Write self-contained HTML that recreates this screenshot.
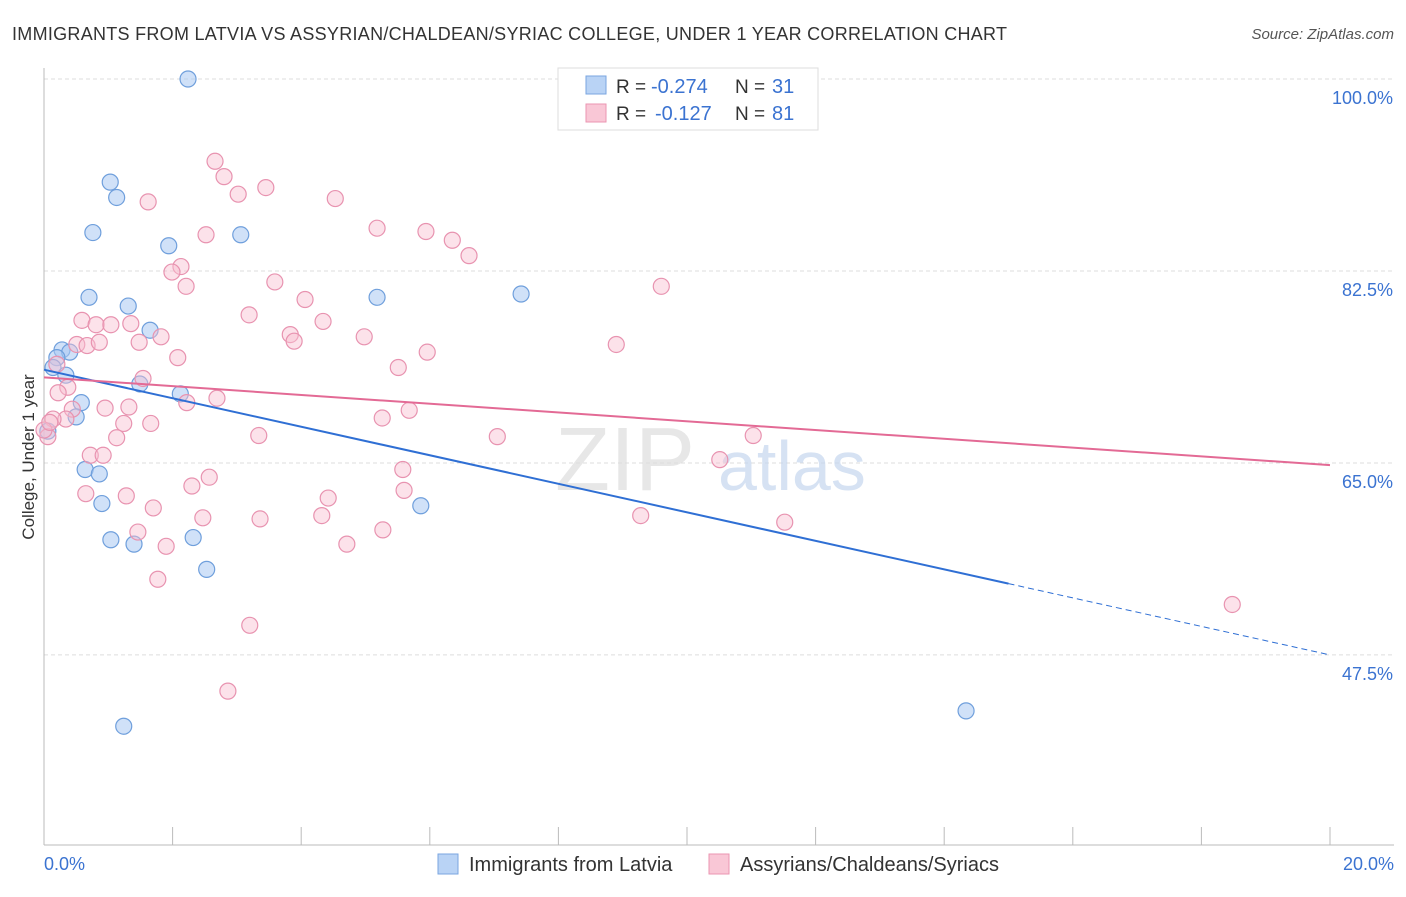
<!DOCTYPE html>
<html><head><meta charset="utf-8"><style>
body{margin:0;background:#fff;font-family:"Liberation Sans",sans-serif}
svg text{font-family:"Liberation Sans",sans-serif}
</style></head><body>
<svg width="1406" height="892">
<text x="12" y="40" font-size="18" fill="#333" textLength="995">IMMIGRANTS FROM LATVIA VS ASSYRIAN/CHALDEAN/SYRIAC COLLEGE, UNDER 1 YEAR CORRELATION CHART</text>
<text x="1394" y="39" font-size="15" fill="#555" text-anchor="end" font-style="italic">Source: ZipAtlas.com</text>
<g id="grid"></g>
<g id="axes"></g>
<text x="555" y="490" font-size="90" fill="#ddd" font-family="Liberation Serif" opacity="0.7">ZIP</text>
<text x="718" y="490" font-size="70" fill="#c5d6ee" opacity="0.7">atlas</text>
<g id="pts"></g>
<g id="trend"></g>
<text transform="translate(34,457) rotate(-90)" font-size="17" fill="#333" text-anchor="middle">College, Under 1 year</text>
<g>
<rect x="558" y="68" width="260" height="62" fill="#fff" stroke="#ddd"/>
<rect x="586" y="76" width="20" height="18" fill="#b9d3f5" stroke="#7aa6e0"/>
<rect x="586" y="104" width="20" height="18" fill="#f9c7d6" stroke="#eb96b2"/>
<text x="616" y="93" font-size="19" fill="#333">R =</text>
<text x="651" y="93" font-size="20" fill="#3b73d1">-0.274</text>
<text x="735" y="93" font-size="19" fill="#333">N =</text>
<text x="772" y="93" font-size="20" fill="#3b73d1">31</text>
<text x="616" y="120" font-size="19" fill="#333">R =</text>
<text x="655" y="120" font-size="20" fill="#3b73d1">-0.127</text>
<text x="735" y="120" font-size="19" fill="#333">N =</text>
<text x="772" y="120" font-size="20" fill="#3b73d1">81</text>
</g>
<g>
<rect x="438" y="854" width="20" height="20" fill="#b9d3f5" stroke="#7aa6e0"/>
<text x="469" y="871" font-size="20" fill="#333">Immigrants from Latvia</text>
<rect x="709" y="854" width="20" height="20" fill="#f9c7d6" stroke="#eb96b2"/>
<text x="740" y="871" font-size="20" fill="#333">Assyrians/Chaldeans/Syriacs</text>
</g>
</svg>
<script>
const yTicks=[100,82.5,65,47.5];
const yTickLabels=["100.0%","82.5%","65.0%","47.5%"];
const xTickLabels=["0.0%","20.0%"];
const blueX=[2.24,1.03,1.13,0.76,1.94,3.06,0.70,1.31,5.18,7.42,1.65,0.28,0.40,0.20,0.14,0.34,1.49,2.12,0.58,0.50,0.06,0.64,0.86,0.90,5.86,1.04,1.40,2.32,2.53,14.34,1.24];
const blueY=[100,90.6,89.2,86.0,84.8,85.8,80.1,79.3,80.1,80.4,77.1,75.3,75.1,74.6,73.7,73.0,72.2,71.3,70.5,69.2,67.9,64.4,64.0,61.3,61.1,58.0,57.6,58.2,55.3,42.4,41.0];
const pinkX=[2.66,2.80,3.02,3.45,4.53,1.62,2.52,5.18,5.94,6.35,6.61,2.13,1.99,2.21,3.59,4.06,9.60,3.19,4.34,0.59,0.81,1.04,1.35,3.83,3.89,4.98,1.82,1.48,0.51,0.67,0.86,5.96,2.08,5.51,0.20,1.54,0.37,0.22,2.69,2.22,1.32,0.95,5.68,5.26,0.44,0.34,0.14,1.66,1.24,1.13,3.34,7.05,11.03,0.72,0.92,10.51,5.58,2.57,2.30,0.65,1.28,5.60,4.42,1.70,2.47,3.36,4.32,9.28,11.52,1.46,5.27,4.71,1.90,1.77,18.48,3.20,2.86,8.90,0.06,0.00,0.09];
const pinkY=[92.5,91.1,89.5,90.1,89.1,88.8,85.8,86.4,86.1,85.3,83.9,82.9,82.4,81.1,81.5,79.9,81.1,78.5,77.9,78.0,77.6,77.6,77.7,76.7,76.1,76.5,76.5,76.0,75.8,75.7,76.0,75.1,74.6,73.7,74.0,72.7,71.9,71.4,70.9,70.5,70.1,70.0,69.8,69.1,69.9,69.0,69.0,68.6,68.6,67.3,67.5,67.4,67.5,65.7,65.7,65.3,64.4,63.7,62.9,62.2,62.0,62.5,61.8,60.9,60.0,59.9,60.2,60.2,59.6,58.7,58.9,57.6,57.4,54.4,52.1,50.2,44.2,75.8,67.4,68.0,68.7];
const blueTrend=[73.5,47.5], pinkTrend=[72.8,64.8];
const X=v=>44+v*64.3, Y=v=>79+(100-v)*10.97;
const NS="http://www.w3.org/2000/svg";
function mk(t,a,p){const e=document.createElementNS(NS,t);for(const k in a)e.setAttribute(k,a[k]);p.appendChild(e);return e;}
const grid=document.getElementById('grid'),axes=document.getElementById('axes');
yTicks.forEach((v,i)=>{
 const l=mk('line',{x1:44,x2:1394,y1:Y(v),y2:Y(v),stroke:'#ddd','stroke-dasharray':'4,3'},grid);
 
 
 const t=mk('text',{x:1393,y:Y(v)+25,'font-size':18,fill:'#3b73d1','text-anchor':'end'},axes);
 t.textContent=yTickLabels[i];
 
 
});
mk('line',{x1:44,x2:44,y1:68,y2:845,stroke:'#bbb'},axes);
mk('line',{x1:44,x2:1394,y1:845,y2:845,stroke:'#bbb'},axes);
for(let i=0;i<=10;i++){const l=mk('line',{x1:X(i*2),x2:X(i*2),y1:827,y2:845,stroke:'#bbb'},axes);
 
 }
[[0,44,'start'],[20,1394,'end']].forEach((d,i)=>{const t=mk('text',{x:d[1],y:870,'font-size':18,fill:'#3b73d1','text-anchor':d[2]},axes);t.textContent=xTickLabels[i];
 
 });
const pts=document.getElementById('pts');
blueX.forEach((x,i)=>{const c=mk('circle',{cx:X(x),cy:Y(blueY[i]),r:8,fill:'rgba(170,200,242,0.55)',stroke:'#6f9fdc','stroke-width':1.2},pts);
 
 });
pinkX.forEach((x,i)=>{const c=mk('circle',{cx:X(x),cy:Y(pinkY[i]),r:8,fill:'rgba(248,190,208,0.45)',stroke:'#e893b0','stroke-width':1.2},pts);
 
 });
const tr=document.getElementById('trend');
const bAt=x=>blueTrend[0]+(blueTrend[1]-blueTrend[0])*x/20;
let l=mk('line',{x1:X(0),y1:Y(bAt(0)),x2:X(15),y2:Y(bAt(15)),stroke:'#2f6fd4','stroke-width':2},tr);


l=mk('line',{x1:X(15),y1:Y(bAt(15)),x2:X(20),y2:Y(bAt(20)),stroke:'#2f6fd4','stroke-width':1,'stroke-dasharray':'6,4'},tr);


l=mk('line',{x1:X(0),y1:Y(pinkTrend[0]),x2:X(20),y2:Y(pinkTrend[1]),stroke:'#e36a95','stroke-width':2},tr);


</script>
</body></html>
